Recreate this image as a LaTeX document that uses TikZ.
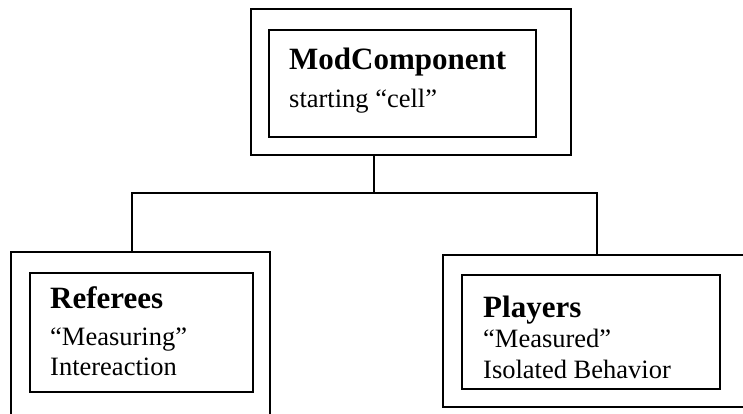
\documentclass[tikz,border=0pt]{standalone}
\usepackage{fontspec}
\setmainfont{Liberation Serif}
\usetikzlibrary{positioning}

\tikzset{
  outerbox/.style={draw, line width=1.8pt, inner sep=0pt},
  innerbox/.style={draw, line width=1.8pt, inner sep=0pt},
  titletext/.style={anchor=base west, inner sep=0pt, font=\fontsize{31}{37}\selectfont\bfseries},
  bodytext/.style={anchor=base west, inner sep=0pt, font=\fontsize{26.5}{30}\selectfont},
  link/.style={line width=1.4pt}
}

\begin{document}
\begin{tikzpicture}[x=1pt,y=-1pt]
\clip (0,0) rectangle (743,413);

% Top box
\node[outerbox, minimum width=320pt, minimum height=146pt] (modout) at (411,82) {};
\node[innerbox, minimum width=267pt, minimum height=107pt] (modin) at (402.5,83.5) {};
\node[titletext] (modtitle) at (289,69) {ModComponent};
\node[bodytext] (modline) at (289,107) {starting “cell”};

% Left box
\node[outerbox, minimum width=259pt, minimum height=188pt] (refout) at (140.5,346) {};
\node[innerbox, minimum width=223pt, minimum height=119pt] (refin) at (141.5,332.5) {};
\node[titletext] (reftitle) at (50,308) {Referees};
\node[bodytext] (refline) at (50,345) {“Measuring”};
\node[bodytext] (reflinetwo) at (50,375) {Intereaction};

% Right box
\node[outerbox, minimum width=337pt, minimum height=152pt] (plyout) at (611.5,331) {};
\node[innerbox, minimum width=258pt, minimum height=114pt] (plyin) at (591,332) {};
\node[titletext] (plytitle) at (483,317) {Players};
\node[bodytext] (plyline) at (483,347) {“Measured”};
\node[bodytext] (plylinetwo) at (483,378) {Isolated Behavior};

% Connectors
\coordinate (hub) at (374,193);
\coordinate (busL) at (132,193);
\coordinate (busR) at (597,193);
\draw[link] (hub |- modout.south) -- (hub);
\draw[link] (refout.north -| busL) -- (busL) -- (busR) -- (plyout.north -| busR);
\end{tikzpicture}
\end{document}
